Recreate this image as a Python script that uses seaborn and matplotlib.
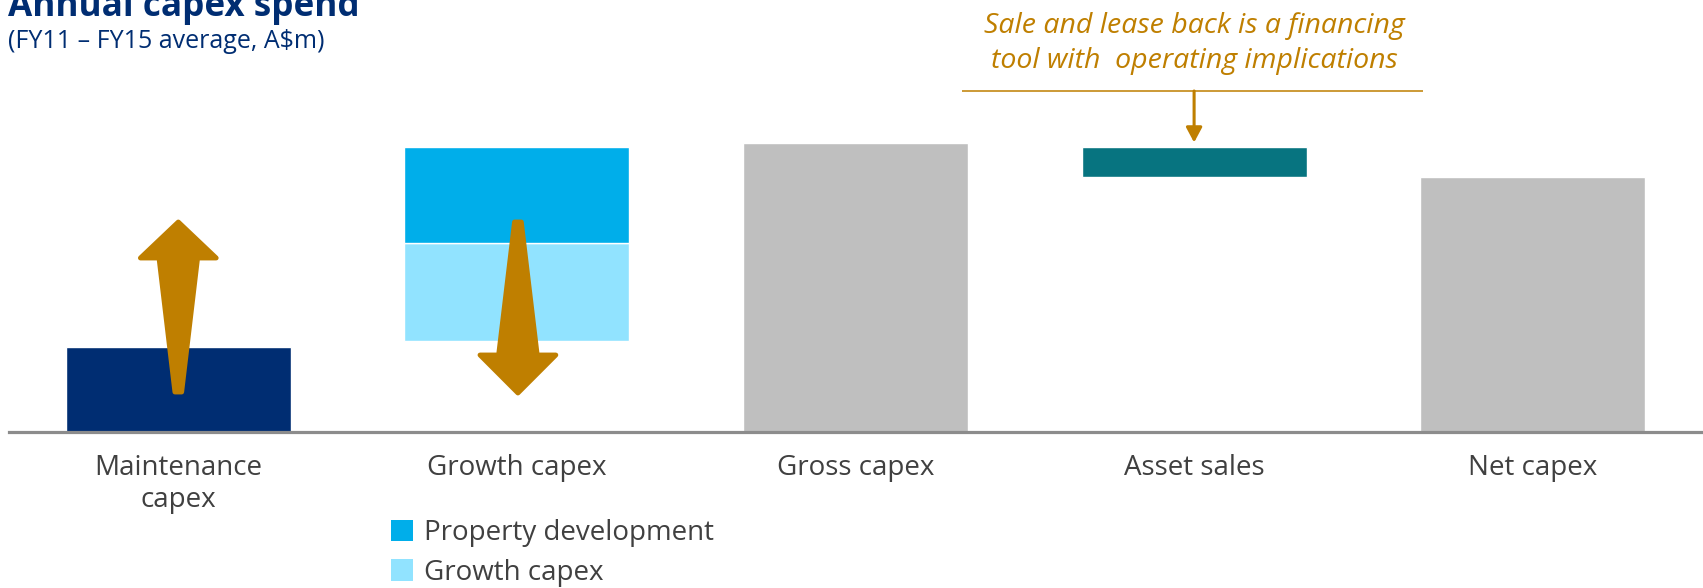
import matplotlib
matplotlib.use("Agg")
import matplotlib.pyplot as plt
from matplotlib.patches import Polygon, Patch
import seaborn as sns

# Annual capex build-up, FY11-FY15 average (A$m)
categories = ["Maintenance\ncapex", "Growth capex", "Gross capex", "Asset sales", "Net capex"]
segment_category = ["Maintenance\ncapex", "Growth capex", "Growth capex",
                    "Gross capex", "Asset sales", "Net capex"]
segment_names = ["Maintenance capex", "Growth capex", "Property development",
                 "Gross capex", "Asset sales", "Net capex"]
segment_low = [0, 364, 756, 0, 1020, 0]
segment_high = [340, 756, 1140, 1156, 1140, 1020]
legend_labels = ["Property development", "Growth capex"]

palette = {
    "Maintenance capex": "#002D72",
    "Growth capex": "#91E3FF",
    "Property development": "#00AEEA",
    "Gross capex": "#BFBFBF",
    "Asset sales": "#077480",
    "Net capex": "#BFBFBF",
}
ORANGE = "#BF7F00"
NAVY = "#002D72"
TEXT = "#404040"

sns.set_theme(style="white")
plt.rcParams["font.family"] = ["Open Sans", "DejaVu Sans"]

fig = plt.figure(figsize=(17.03, 5.88), dpi=100)
W, H = 1703, 588
ax = fig.add_axes([9 / W, (H - 432) / H, (1702 - 9) / W, 432 / H])

for cat, name, lo, hi in zip(segment_category, segment_names, segment_low, segment_high):
    sns.barplot(x=[cat], y=[hi - lo], order=categories, bottom=lo,
                color=palette[name], saturation=1, width=0.665,
                errorbar=None, ax=ax, zorder=2)

ax.set_xlim(-0.5, len(categories) - 0.5)
ax.set_ylim(0, 1728)
ax.set_xlabel("")
ax.set_ylabel("")
ax.set_yticks([])
for side in ["top", "left", "right"]:
    ax.spines[side].set_visible(False)
ax.spines["bottom"].set_color("#8C8C8C")
ax.spines["bottom"].set_linewidth(2.3)
ax.spines["bottom"].set_zorder(3)
ax.set_xticks(range(len(categories)))
ax.set_xticklabels(categories, fontsize=20, color=TEXT, linespacing=1.18)
ax.tick_params(axis="x", length=0, pad=16)


def tapered_arrow(xc, y_tail, y_base, y_tip, tail_hw=0.010, shaft_hw=0.057, head_hw=0.112):
    pts = [
        (xc - tail_hw, y_tail), (xc - shaft_hw, y_base), (xc - head_hw, y_base),
        (xc, y_tip),
        (xc + head_hw, y_base), (xc + shaft_hw, y_base), (xc + tail_hw, y_tail),
    ]
    ax.add_patch(Polygon(pts, closed=True, facecolor=ORANGE, edgecolor=ORANGE,
                         linewidth=3.5, joinstyle="round", capstyle="round",
                         zorder=6, clip_on=False))


# shift from maintenance toward growth and back
tapered_arrow(0, 160, 696, 840)
tapered_arrow(1.003, 840, 308, 156)

# sale and lease back callout
ax.text(3, 1626, "Sale and lease back is a financing", ha="center", va="center",
        fontsize=20.5, style="italic", color=ORANGE)
ax.text(3, 1484, "tool with  operating implications", ha="center", va="center",
        fontsize=20.5, style="italic", color=ORANGE)
ax.plot([2.314, 3.675], [1364, 1364], color=ORANGE, lw=1.1, clip_on=False,
        solid_capstyle="butt")
ax.annotate("", xy=(3, 1158), xytext=(3, 1364),
            arrowprops=dict(arrowstyle="-|>,head_length=0.75,head_width=0.4",
                            color=ORANGE, lw=2.2, shrinkA=0, shrinkB=0))

# titles
fig.text(8 / W, 1 - 16 / H, "Annual capex spend", ha="left", va="baseline",
         fontsize=25.3, fontweight="bold", color=NAVY)
fig.text(8 / W, 1 - 42 / H, "(FY11 \u2013 FY15 average, A$m)", ha="left", va="center",
         fontsize=18, color=NAVY)

handles = [Patch(facecolor=palette[n], edgecolor="none") for n in legend_labels]
fig.legend(handles, legend_labels, loc="upper left",
           bbox_to_anchor=(391 / W, 1 - 519 / H), frameon=False,
           fontsize=20, labelcolor=TEXT, handlelength=0.8, handleheight=0.8,
           handletextpad=0.4, labelspacing=0.42, borderpad=0, borderaxespad=0)

fig.savefig("out.png", dpi=100)
